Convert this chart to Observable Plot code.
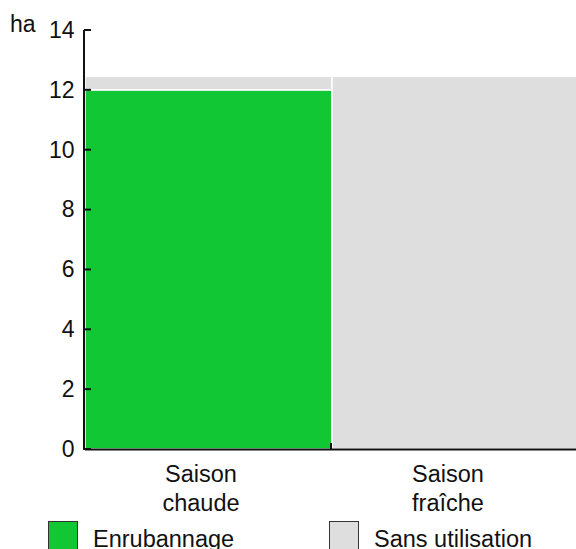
<!DOCTYPE html>
<html><head><meta charset="utf-8">
<script src="https://cdn.jsdelivr.net/npm/d3@7"></script>
<script src="https://cdn.jsdelivr.net/npm/@observablehq/plot@0.6"></script>
<style>
body{margin:0;background:#fff;font-family:"Liberation Sans",Arial,sans-serif;color:#111;}
#wrap{position:relative;width:576px;height:549px;overflow:hidden;}
#unit{position:absolute;left:10px;top:13px;font-size:23px;line-height:23px;}
#legend{position:relative;height:34px;margin-top:6px;font-size:23.5px;}
.item{position:absolute;top:0;display:flex;align-items:flex-start;line-height:30px;}
.item span{padding-top:3px;}
.sw{width:28px;height:28px;border:1px solid #333;margin-right:15px;}
</style></head><body>
<div id="wrap"><div id="chart"></div><div id="unit"></div><div id="legend"></div></div>
<script>
const categories = ["Saison chaude", "Saison fraîche"];
const categoryLabels = ["Saison\nchaude", "Saison\nfraîche"];
const seriesNames = ["Enrubannage", "Sans utilisation"];
const enrubannage = [12, 0];
const sansUtilisation = [0.45, 12.45];
const yTicks = [0, 2, 4, 6, 8, 10, 12, 14];
const seriesColors = ["#11c733", "#dedede"];
const unitLabel = "ha";

const data = categories.flatMap((c, i) => [
  {cat: c, series: seriesNames[0], value: enrubannage[i]},
  {cat: c, series: seriesNames[1], value: sansUtilisation[i]}
]);

function axisLines(index, {x, y}, values, dims) {
  const g = d3.create("svg:g").attr("stroke", "#111").attr("stroke-width", 2);
  const x0 = dims.marginLeft - 1;
  g.append("line").attr("x1", x0).attr("x2", x0).attr("y1", y(0) + 1).attr("y2", y(14));
  for (const t of yTicks) {
    g.append("line").attr("x1", x0).attr("x2", x0 + 7).attr("y1", y(t)).attr("y2", y(t));
  }
  for (const c of categories.slice(1)) {
    const px = x(c) - 1;
    g.append("line").attr("x1", px).attr("x2", px).attr("y1", y(0)).attr("y2", y(0) - 6);
  }
  return g.node();
}

const chart = Plot.plot({
  width: 576,
  height: 515,
  marginTop: 30,
  marginBottom: 66,
  marginLeft: 85,
  marginRight: 0,
  style: {fontSize: "23px", fontFamily: "Liberation Sans, Arial, sans-serif", color: "#111", background: "#fff"},
  x: {domain: categories, range: [85, 579], padding: 0, axis: null},
  y: {domain: [0, 14], axis: null},
  color: {domain: seriesNames, range: seriesColors},
  marks: [
    Plot.barY(data, Plot.stackY({x: "cat", y: "value", fill: "series", stroke: "white", strokeWidth: 1.5})),
    Plot.ruleY([0], {stroke: "#111", strokeWidth: 2}),
    Plot.axisY({ticks: yTicks, tickSize: 0, tickPadding: 11, fontSize: 23, label: null}),
    Plot.axisX({tickSize: 0, tickPadding: 12, dx: -8, lineHeight: 1.22, fontSize: 23.5, label: null,
      tickFormat: d => categoryLabels[categories.indexOf(d)]}),
    axisLines
  ]
});
document.getElementById("chart").appendChild(chart);
document.getElementById("unit").textContent = unitLabel;

const legend = document.getElementById("legend");
const lefts = [48, 329];
seriesNames.forEach((s, i) => {
  const it = document.createElement("div");
  it.className = "item";
  it.style.left = lefts[i] + "px";
  const sw = document.createElement("div");
  sw.className = "sw";
  sw.style.background = seriesColors[i];
  const tx = document.createElement("span");
  tx.textContent = s;
  it.appendChild(sw); it.appendChild(tx);
  legend.appendChild(it);
});
</script>
</body></html>
